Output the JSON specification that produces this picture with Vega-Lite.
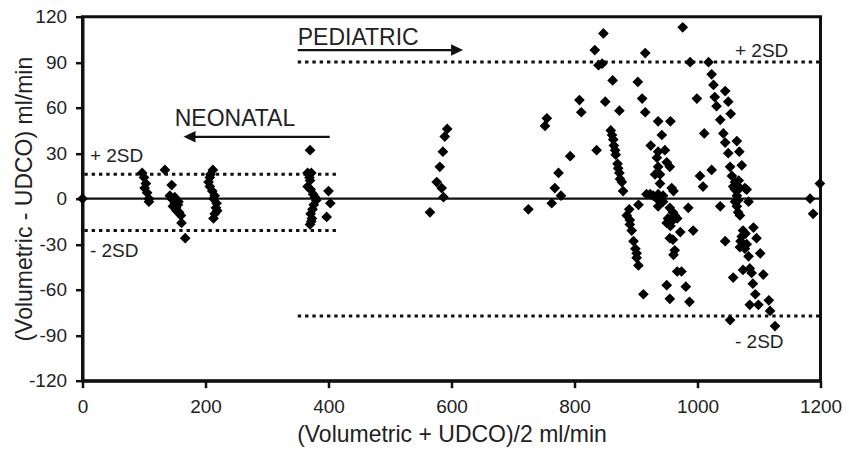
{
  "$schema": "https://vega.github.io/schema/vega-lite/v6.json",
  "width": 738,
  "height": 364,
  "autosize": "none",
  "padding": {"left": 82.5, "top": 16.7, "right": 28.5, "bottom": 72.4},
  "background": "white",
  "config": {
    "view": {"stroke": "#111", "strokeWidth": 3},
    "font": "Liberation Sans",
    "axis": {"grid": false, "domainColor": "#111", "domainWidth": 3, "tickColor": "#111", "tickWidth": 2.5, "tickSize": 7, "labelColor": "#222", "titleColor": "#222", "labelFont": "Liberation Sans", "titleFont": "Liberation Sans", "labelFontSize": 19, "titleFontSize": 23, "titleFontWeight": "normal", "labelExpr": "'' + datum.value", "labelFlush": false, "labelOverlap": false}
  },
  "datasets": {
    "points": [
      {"x":0,"y":0},
      {"x":97,"y":17},{"x":100,"y":14},{"x":103,"y":10},{"x":101,"y":7},{"x":105,"y":4},{"x":108,"y":0},{"x":108,"y":-2},
      {"x":134,"y":19},{"x":145,"y":9},{"x":142,"y":2},{"x":145,"y":0},{"x":148,"y":-1},{"x":150,"y":-3},{"x":147,"y":-5},{"x":152,"y":-6},{"x":155,"y":-4},{"x":153,"y":-8},{"x":157,"y":-9},{"x":160,"y":-11},{"x":161,"y":-16},{"x":167,"y":-26},{"x":150,"y":1},{"x":156,"y":-2},
      {"x":212,"y":19},{"x":208,"y":16},{"x":207,"y":14},{"x":205,"y":11},{"x":207,"y":8},{"x":211,"y":5},{"x":215,"y":2},{"x":213,"y":0},{"x":218,"y":-3},{"x":217,"y":-6},{"x":219,"y":-8},{"x":215,"y":-10},{"x":213,"y":-13},
      {"x":370,"y":32},{"x":366,"y":17},{"x":372,"y":17},{"x":369,"y":14},{"x":370,"y":12},{"x":366,"y":8},{"x":371,"y":6},{"x":375,"y":3},{"x":378,"y":1},{"x":380,"y":-1},{"x":376,"y":-4},{"x":374,"y":-7},{"x":371,"y":-10},{"x":373,"y":-13},{"x":372,"y":-15},{"x":370,"y":-17},{"x":400,"y":5},{"x":403,"y":-3},{"x":397,"y":-12},
      {"x":565,"y":-9},{"x":576,"y":11},{"x":584,"y":7},{"x":587,"y":1},{"x":581,"y":21},{"x":586,"y":31},{"x":589,"y":41},{"x":593,"y":46},
      {"x":725,"y":-7},{"x":752,"y":48},{"x":755,"y":53},{"x":763,"y":-3},{"x":768,"y":7},{"x":778,"y":2},{"x":774,"y":17},{"x":793,"y":28},{"x":808,"y":65},{"x":811,"y":57},
      {"x":833,"y":98},{"x":847,"y":109},{"x":839,"y":88},{"x":845,"y":89},{"x":862,"y":78},{"x":850,"y":64},{"x":873,"y":58},{"x":836,"y":32},{"x":915,"y":96},{"x":903,"y":77},{"x":910,"y":66},{"x":915,"y":57},{"x":976,"y":113},{"x":988,"y":90},{"x":1018,"y":90},{"x":999,"y":66},{"x":1011,"y":43},{"x":1004,"y":15},{"x":1023,"y":19},{"x":1009,"y":8},
      {"x":859,"y":45},{"x":861,"y":42},{"x":863,"y":39},{"x":864,"y":35},{"x":866,"y":32},{"x":867,"y":29},{"x":870,"y":23},{"x":871,"y":20},{"x":873,"y":17},{"x":874,"y":13},{"x":877,"y":11},{"x":879,"y":5},{"x":904,"y":-4},{"x":889,"y":-7},{"x":885,"y":-11},{"x":890,"y":-14},{"x":890,"y":-17},{"x":893,"y":-21},{"x":896,"y":-28},{"x":899,"y":-33},{"x":901,"y":-36},{"x":901,"y":-39},{"x":904,"y":-44},{"x":912,"y":-63},
      {"x":936,"y":51},{"x":956,"y":51},{"x":942,"y":42},{"x":924,"y":35},{"x":936,"y":31},{"x":947,"y":32},{"x":934,"y":27},{"x":950,"y":24},{"x":936,"y":21},{"x":955,"y":21},{"x":931,"y":16},{"x":939,"y":16},{"x":939,"y":10},{"x":958,"y":7},{"x":961,"y":5},{"x":917,"y":3},{"x":923,"y":3},{"x":928,"y":2},{"x":936,"y":3},{"x":944,"y":2},{"x":934,"y":0},{"x":940,"y":1},
      {"x":936,"y":-5},{"x":955,"y":-6},{"x":985,"y":-6},{"x":950,"y":-16},{"x":958,"y":-15},{"x":967,"y":-13},{"x":972,"y":-22},{"x":993,"y":-21},{"x":955,"y":-26},{"x":960,"y":-27},{"x":963,"y":-34},{"x":961,"y":-37},{"x":967,"y":-48},{"x":974,"y":-48},{"x":950,"y":-57},{"x":981,"y":-58},{"x":955,"y":-66},{"x":987,"y":-68},{"x":960,"y":-9},{"x":963,"y":-11},{"x":952,"y":-13},{"x":956,"y":-18},{"x":944,"y":-2},
      {"x":1023,"y":82},{"x":1026,"y":75},{"x":1028,"y":67},{"x":1045,"y":71},{"x":1031,"y":61},{"x":1050,"y":64},{"x":1037,"y":52},{"x":1054,"y":56},{"x":1042,"y":43},{"x":1045,"y":37},{"x":1064,"y":38},{"x":1050,"y":30},{"x":1068,"y":31},{"x":1053,"y":21},{"x":1072,"y":22},{"x":1056,"y":15},{"x":1061,"y":11},{"x":1067,"y":12},{"x":1061,"y":6},{"x":1077,"y":7},{"x":1069,"y":7},{"x":1080,"y":6},{"x":1058,"y":8},{"x":1064,"y":2},{"x":1066,"y":-1},
      {"x":1037,"y":-5},{"x":1061,"y":-2},{"x":1064,"y":-5},{"x":1066,"y":-9},{"x":1069,"y":-11},{"x":1083,"y":-2},{"x":1074,"y":-21},{"x":1091,"y":-19},{"x":1072,"y":-25},{"x":1096,"y":-26},{"x":1045,"y":-28},{"x":1069,"y":-32},{"x":1077,"y":-33},{"x":1083,"y":-38},{"x":1102,"y":-36},{"x":1074,"y":-47},{"x":1085,"y":-46},{"x":1088,"y":-49},{"x":1058,"y":-52},{"x":1107,"y":-50},{"x":1090,"y":-56},{"x":1094,"y":-63},{"x":1085,"y":-70},{"x":1099,"y":-70},{"x":1116,"y":-67},{"x":1118,"y":-74},{"x":1053,"y":-80},{"x":1126,"y":-84},{"x":1070,"y":-28},{"x":1078,"y":-23},{"x":1080,"y":-30},
      {"x":1183,"y":0},{"x":1188,"y":-10},{"x":1199,"y":10}
    ],
    "sd": [
      {"x1":3,"x2":415,"y":16.2},
      {"x1":3,"x2":415,"y":-20.9},
      {"x1":350,"x2":1200,"y":90.2},
      {"x1":350,"x2":1200,"y":-77.4}
    ],
    "arrows": [
      {"x1":350,"x2":605,"y":98,"tip":609,"dir":"right"},
      {"x1":172,"x2":402,"y":40.8,"tip":174,"dir":"left"}
    ],
    "groups": [
      {"x":350,"y":101.3,"label":"PEDIATRIC"},
      {"x":150,"y":47.9,"label":"NEONATAL"}
    ],
    "sdlabels": [
      {"x":12,"y":24.3,"label":"+ 2SD"},
      {"x":12,"y":-38.3,"label":"- 2SD"},
      {"x":1061,"y":93.6,"label":"+ 2SD"},
      {"x":1061,"y":-98.7,"label":"- 2SD"}
    ],
    "zero": [{"y":0}]
  },
  "layer": [
    {
      "data": {"name": "zero"},
      "mark": {"type": "rule", "color": "#111", "strokeWidth": 2.2},
      "encoding": {
        "y": {"field": "y", "type": "quantitative", "scale": {"domain": [-120, 120], "nice": false}, "axis": {"values": [-120,-90,-60,-30,0,30,60,90,120], "title": "(Volumetric - UDCO) ml/min", "labelPadding": 9, "titleX": -51.5, "titleBaseline": "alphabetic"}}
      }
    },
    {
      "data": {"name": "sd"},
      "mark": {"type": "rule", "color": "#111", "strokeWidth": 3, "strokeDash": [3.4, 3.9]},
      "encoding": {
        "x": {"field": "x1", "type": "quantitative", "scale": {"domain": [0, 1200], "nice": false}, "axis": {"values": [0,200,400,600,800,1000,1200], "title": "(Volumetric + UDCO)/2 ml/min", "labelPadding": 10, "titleY": 61, "titleBaseline": "alphabetic"}},
        "x2": {"field": "x2"},
        "y": {"field": "y", "type": "quantitative"}
      }
    },
    {
      "data": {"name": "arrows"},
      "mark": {"type": "rule", "color": "#111", "strokeWidth": 2.2},
      "encoding": {
        "x": {"field": "x1", "type": "quantitative"},
        "x2": {"field": "x2"},
        "y": {"field": "y", "type": "quantitative"}
      }
    },
    {
      "data": {"name": "arrows"},
      "mark": {"type": "point", "filled": true, "color": "#111", "opacity": 1, "size": 144},
      "encoding": {
        "x": {"field": "tip", "type": "quantitative"},
        "y": {"field": "y", "type": "quantitative"},
        "shape": {"field": "dir", "type": "nominal", "scale": {"domain": ["right", "left"], "range": ["M-1,-0.95L1,0L-1,0.95Z", "M1,-0.95L-1,0L1,0.95Z"]}, "legend": null}
      }
    },
    {
      "data": {"name": "groups"},
      "mark": {"type": "text", "align": "left", "baseline": "alphabetic", "fontSize": 23, "color": "#222", "font": "Liberation Sans"},
      "encoding": {
        "x": {"field": "x", "type": "quantitative"},
        "y": {"field": "y", "type": "quantitative"},
        "text": {"field": "label"}
      }
    },
    {
      "data": {"name": "sdlabels"},
      "mark": {"type": "text", "align": "left", "baseline": "alphabetic", "fontSize": 19, "color": "#222", "font": "Liberation Sans"},
      "encoding": {
        "x": {"field": "x", "type": "quantitative"},
        "y": {"field": "y", "type": "quantitative"},
        "text": {"field": "label"}
      }
    },
    {
      "data": {"name": "points"},
      "mark": {"type": "point", "shape": "diamond", "filled": true, "color": "#000", "opacity": 1, "size": 115},
      "encoding": {
        "x": {"field": "x", "type": "quantitative"},
        "y": {"field": "y", "type": "quantitative"}
      }
    }
  ]
}
